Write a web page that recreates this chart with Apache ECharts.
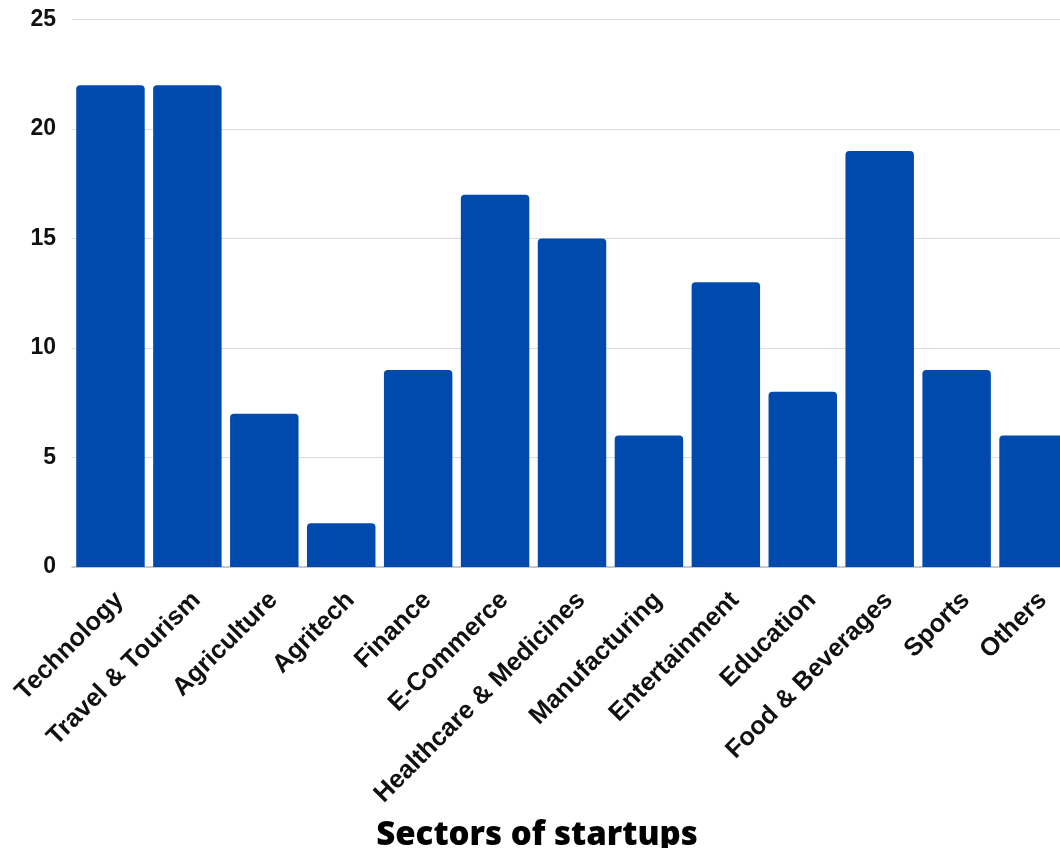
<!DOCTYPE html>
<html>
<head>
<meta charset="utf-8">
<script src="https://cdn.jsdelivr.net/npm/echarts@6/dist/echarts.min.js"></script>
<style>
  html, body { margin: 0; padding: 0; background: #ffffff; }
  #chart { width: 1060px; height: 848px; }
</style>
</head>
<body>
<div id="chart"></div>
<script>
// Number of startups per sector
const sectors = [
  'Technology', 'Travel & Tourism', 'Agriculture', 'Agritech', 'Finance',
  'E-Commerce', 'Healthcare & Medicines', 'Manufacturing', 'Entertainment',
  'Education', 'Food & Beverages', 'Sports', 'Others'
];
const startupCounts = [22, 22, 7, 2, 9, 17, 15, 6, 13, 8, 19, 9, 6];
const yTicks = { min: 0, max: 25, interval: 5 };
const xAxisTitle = 'Sectors of startups';

const chart = echarts.init(document.getElementById('chart'), null, { renderer: 'canvas' });

chart.setOption({
  backgroundColor: '#ffffff',
  animation: false,
  grid: {
    left: 72, top: 19.5, width: 1000, bottom: 281,
    containLabel: false, outerBoundsMode: 'none'
  },
  xAxis: {
    type: 'category',
    data: sectors,
    axisTick: { show: false },
    axisLine: { show: true, lineStyle: { color: '#bdbdbd', width: 1.5 } },
    axisLabel: {
      rotate: 45,
      interval: 0,
      margin: 20,
      verticalAlign: 'top',
      color: '#111111',
      fontFamily: 'Liberation Sans, Arial, sans-serif',
      fontWeight: 'bold',
      fontSize: 25.5
    },
    name: xAxisTitle,
    nameLocation: 'middle',
    nameGap: 252,
    nameTextStyle: {
      color: '#000000',
      fontFamily: 'Open Sans, Lato, sans-serif',
      fontWeight: 800,
      fontSize: 33,
      padding: [0, 0, 0, -70]
    }
  },
  yAxis: {
    type: 'value',
    min: yTicks.min,
    max: yTicks.max,
    interval: yTicks.interval,
    axisLine: { show: false },
    axisTick: { show: false },
    splitLine: { lineStyle: { color: '#dcdcdc', width: 1.2 } },
    axisLabel: {
      margin: 16,
      color: '#111111',
      fontFamily: 'Liberation Sans, Arial, sans-serif',
      fontWeight: 'bold',
      fontSize: 23
    }
  },
  series: [{
    type: 'bar',
    data: startupCounts,
    barCategoryGap: '11%',
    itemStyle: { color: '#004AAD', borderRadius: [4, 4, 0, 0] }
  }]
});
</script>
</body>
</html>
